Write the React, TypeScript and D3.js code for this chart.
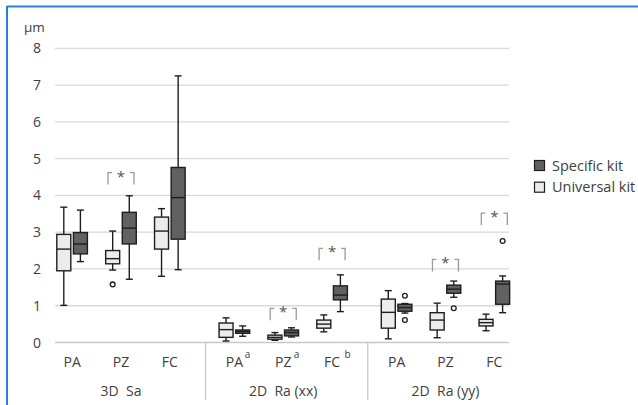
import React from "react";
import * as d3 from "d3";

const groups = ["3D  Sa", "2D  Ra (xx)", "2D  Ra (yy)"];
const categories = ["PA", "PZ", "FC", "PA", "PZ", "FC", "PA", "PZ", "FC"];
const superscripts = ["", "", "", "a", "a", "b", "", "", ""];
const seriesNames = ["Specific kit", "Universal kit"];

// [min, q1, median, q3, max]
const universalStats = [
  [1.01, 1.95, 2.54, 2.94, 3.68],
  [1.97, 2.14, 2.28, 2.5, 3.03],
  [1.8, 2.54, 3.03, 3.41, 3.64],
  [0.04, 0.14, 0.35, 0.53, 0.67],
  [0.06, 0.09, 0.14, 0.2, 0.27],
  [0.29, 0.39, 0.5, 0.61, 0.75],
  [0.1, 0.39, 0.82, 1.18, 1.41],
  [0.13, 0.34, 0.61, 0.81, 1.07],
  [0.32, 0.45, 0.54, 0.63, 0.77],
];
const specificStats = [
  [2.2, 2.41, 2.68, 2.99, 3.6],
  [1.72, 2.68, 3.11, 3.54, 3.99],
  [1.98, 2.81, 3.94, 4.76, 7.25],
  [0.17, 0.25, 0.3, 0.34, 0.45],
  [0.15, 0.18, 0.27, 0.34, 0.4],
  [0.84, 1.16, 1.29, 1.54, 1.84],
  [0.8, 0.85, 0.95, 1.04, 1.06],
  [1.23, 1.34, 1.45, 1.56, 1.67],
  [0.81, 1.04, 1.59, 1.67, 1.81],
];
const universalOutliers = [[], [1.58], [], [], [], [], [], [], []];
const specificOutliers = [[], [], [], [], [], [], [1.27, 0.61], [0.93], [2.76]];
const significantCats = [1, 4, 5, 7, 8];
const significanceLevels = [4.62, 0.93, 2.56, 2.26, 3.52];
const yTicks = [0, 1, 2, 3, 4, 5, 6, 7, 8];

const FONT = "'Open Sans', sans-serif";
const TEXT = "#404040";
const LIGHT = "#ececec";
const DARK = "#616161";
const STROKE = "#1e1e1e";

export default function App() {
  const W = 638, H = 405;
  const plotL = 55, plotR = 509, plotT = 48.3, plotB = 342.5;
  const GAP = 0.32;
  const pos = (i: number) => i + GAP * Math.floor(i / 3);
  const x = d3.scaleLinear().domain([-0.35, 8.94]).range([plotL, plotR]);
  const y = d3.scaleLinear().domain([0, 8]).range([plotB, plotT]);
  const boxW = 14, off = 8.3, capW = 7;

  const drawBox = (s: number[], cx: number, fill: string, key: string) => {
    const [mn, q1, md, q3, mx] = s;
    return (
      <g key={key} stroke={STROKE} strokeWidth={1.4}>
        <line x1={cx} x2={cx} y1={y(mx)} y2={y(q3)} />
        <line x1={cx} x2={cx} y1={y(q1)} y2={y(mn)} />
        <line x1={cx - capW / 2} x2={cx + capW / 2} y1={y(mx)} y2={y(mx)} />
        <line x1={cx - capW / 2} x2={cx + capW / 2} y1={y(mn)} y2={y(mn)} />
        <rect x={cx - boxW / 2} y={y(q3)} width={boxW} height={Math.max(0.5, y(q1) - y(q3))} fill={fill} />
        <line x1={cx - boxW / 2} x2={cx + boxW / 2} y1={y(md)} y2={y(md)} />
      </g>
    );
  };

  return (
    <svg width={W} height={H} style={{ position: "absolute", left: 0, top: 0, background: "#fff" }} fontFamily={FONT}>
      <rect x={0} y={0} width={W} height={H} fill="#fff" />
      {/* frame */}
      <line x1={7} x2={W} y1={6.5} y2={6.5} stroke="#2f7fd1" strokeWidth={2} />
      <line x1={7} x2={7} y1={6} y2={H} stroke="#2f7fd1" strokeWidth={2} />

      {/* gridlines */}
      {yTicks.map((t) => (
        <line key={"g" + t} x1={plotL} x2={plotR} y1={y(t)} y2={y(t)} stroke={t === 0 ? "#c8c8c8" : "#d9d9d9"} strokeWidth={1.3} />
      ))}
      {yTicks.map((t) => (
        <text key={"t" + t} x={41} y={y(t) + 5} textAnchor="end" fontSize={14} fill={TEXT}>{t}</text>
      ))}
      <text x={24} y={32} fontSize={13.5} fill={TEXT}>µm</text>

      {/* group dividers */}
      {[2.73, 6.05].map((u, i) => (
        <line key={"d" + i} x1={x(u)} x2={x(u)} y1={plotB} y2={400} stroke="#c8c8c8" strokeWidth={1.3} />
      ))}

      {/* category labels */}
      {categories.map((c, i) => (
        <g key={"c" + i}>
          <text x={x(pos(i))} y={366.5} textAnchor="middle" fontSize={14} fill={TEXT}>{c}</text>
          {superscripts[i] && (
            <text x={x(pos(i)) + (superscripts[i] === "b" ? 12.5 : 10.5)} y={358} fontSize={10} fill={TEXT}>{superscripts[i]}</text>
          )}
        </g>
      ))}
      {groups.map((g, gi) => (
        <text key={"gl" + gi} x={x(pos(gi * 3 + 1))} y={396} textAnchor="middle" fontSize={14} fill={TEXT} style={{ whiteSpace: "pre" }}>{g}</text>
      ))}

      {/* boxes */}
      {categories.map((_, i) => {
        const cx = x(pos(i));
        return (
          <g key={"b" + i}>
            {drawBox(universalStats[i], cx - off, LIGHT, "u" + i)}
            {drawBox(specificStats[i], cx + off, DARK, "s" + i)}
            {universalOutliers[i].map((v, k) => (
              <circle key={"uo" + k} cx={cx - off} cy={y(v)} r={2.4} fill="#fff" stroke={STROKE} strokeWidth={1.3} />
            ))}
            {specificOutliers[i].map((v, k) => (
              <circle key={"so" + k} cx={cx + off} cy={y(v)} r={2.4} fill="#fff" stroke={STROKE} strokeWidth={1.3} />
            ))}
          </g>
        );
      })}

      {/* significance brackets */}
      {significantCats.map((ci, k) => {
        const cx = x(pos(ci));
        const top = y(significanceLevels[k]);
        const x1 = cx - 13, x2 = cx + 13;
        return (
          <g key={"sig" + k}>
            <path d={`M${x1 + 4},${top}H${x1}V${top + 12}M${x2 - 4},${top}H${x2}V${top + 12}`} fill="none" stroke="#9a9a9a" strokeWidth={1.3} />
            <text x={cx} y={top + 9} textAnchor="middle" fontSize={15} fill="#555">*</text>
          </g>
        );
      })}

      {/* legend */}
      {seriesNames.map((n, i) => (
        <g key={"l" + i}>
          <rect x={534.5} y={160.5 + i * 21.7} width={10} height={10} fill={i === 0 ? DARK : LIGHT} stroke={STROKE} strokeWidth={1.2} />
          <text x={552} y={170.5 + i * 21.7} fontSize={14.5} fill={TEXT}>{n}</text>
        </g>
      ))}
    </svg>
  );
}
